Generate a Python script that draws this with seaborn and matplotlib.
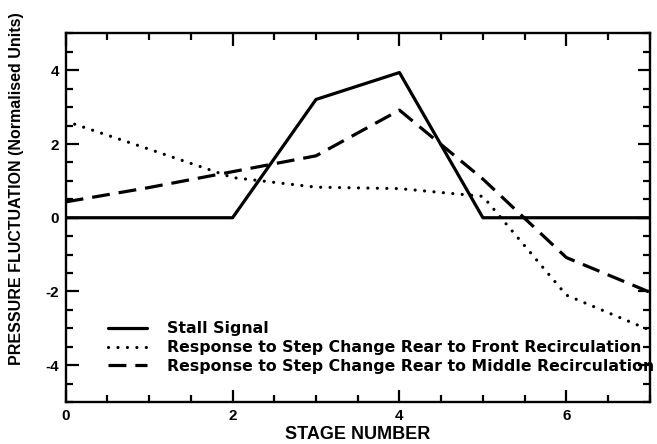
import matplotlib
matplotlib.use("Agg")
import matplotlib.pyplot as plt
from matplotlib.ticker import MultipleLocator
import seaborn as sns
import pandas as pd

# Stage positions and pressure-fluctuation traces
stages = [0, 1, 2, 3, 4, 5, 6, 7]
stall_signal = [0.0, 0.0, 0.0, 3.21, 3.94, 0.0, 0.0, 0.0]
front_recirc = [2.62, 1.86, 1.09, 0.83, 0.79, 0.58, -2.10, -3.05]
middle_recirc = [0.43, 0.82, 1.25, 1.68, 2.92, 1.05, -1.08, -2.02]

series_labels = [
    "Stall Signal",
    "Response to Step Change Rear to Front Recirculation",
    "Response to Step Change Rear to Middle Recirculation",
]
x_label = "STAGE NUMBER"
y_label = "PRESSURE FLUCTUATION (Normalised Units)"

sns.set_style("ticks")
plt.rcParams["font.family"] = ["Liberation Sans", "DejaVu Sans"]
plt.rcParams["font.weight"] = "bold"
plt.rcParams["axes.unicode_minus"] = False
for key in ("text.color", "axes.labelcolor", "xtick.color", "ytick.color",
            "axes.edgecolor"):
    plt.rcParams[key] = "black"

fig = plt.figure(figsize=(6.57, 4.44), dpi=100)
ax = fig.add_axes([0.1, 0.0946, 0.889, 0.83])

frames = {
    series_labels[0]: stall_signal,
    series_labels[1]: front_recirc,
    series_labels[2]: middle_recirc,
}
styles = {
    series_labels[0]: dict(linestyle="-"),
    series_labels[1]: dict(linestyle=(0, (0.01, 2.95)), dash_capstyle="round"),
    series_labels[2]: dict(linestyle=(0, (5.6, 2.8)), dash_capstyle="butt"),
}
for name, values in frames.items():
    df = pd.DataFrame({"stage": stages, "value": values})
    sns.lineplot(data=df, x="stage", y="value", ax=ax, color="black",
                 linewidth=2.3, label=name, **styles[name])

ax.set_xlim(0, 7)
ax.set_ylim(-5, 5)
ax.xaxis.set_major_locator(MultipleLocator(2))
ax.xaxis.set_minor_locator(MultipleLocator(0.5))
ax.yaxis.set_major_locator(MultipleLocator(2))
ax.yaxis.set_minor_locator(MultipleLocator(0.5))
ax.tick_params(which="both", direction="in", top=True, right=True,
               width=1.6, color="black", labelcolor="black", labelsize=11)
ax.tick_params(which="major", length=9, pad=5)
ax.tick_params(which="minor", length=5)
for lbl in ax.get_xticklabels() + ax.get_yticklabels():
    lbl.set_fontweight("bold")
for sp in ax.spines.values():
    sp.set_linewidth(1.7)
    sp.set_color("black")
    sp.set_zorder(6)

ax.set_xlabel(x_label, fontsize=13, fontweight="bold", labelpad=2,
              color="black")
ax.set_ylabel(y_label, fontsize=11.5, fontweight="bold", color="black")
ax.yaxis.set_label_coords(-0.072, 0.58)

leg = ax.legend(loc="lower left", bbox_to_anchor=(0.072, 0.076),
                frameon=False,
                prop={"family": "DejaVu Sans", "weight": "bold", "size": 11.3},
                handlelength=2.5, handletextpad=1.27, labelspacing=0.24,
                borderaxespad=0, borderpad=0)
for t in leg.get_texts():
    t.set_color("black")
leg.set_zorder(5)

fig.savefig("out.png", dpi=100)
